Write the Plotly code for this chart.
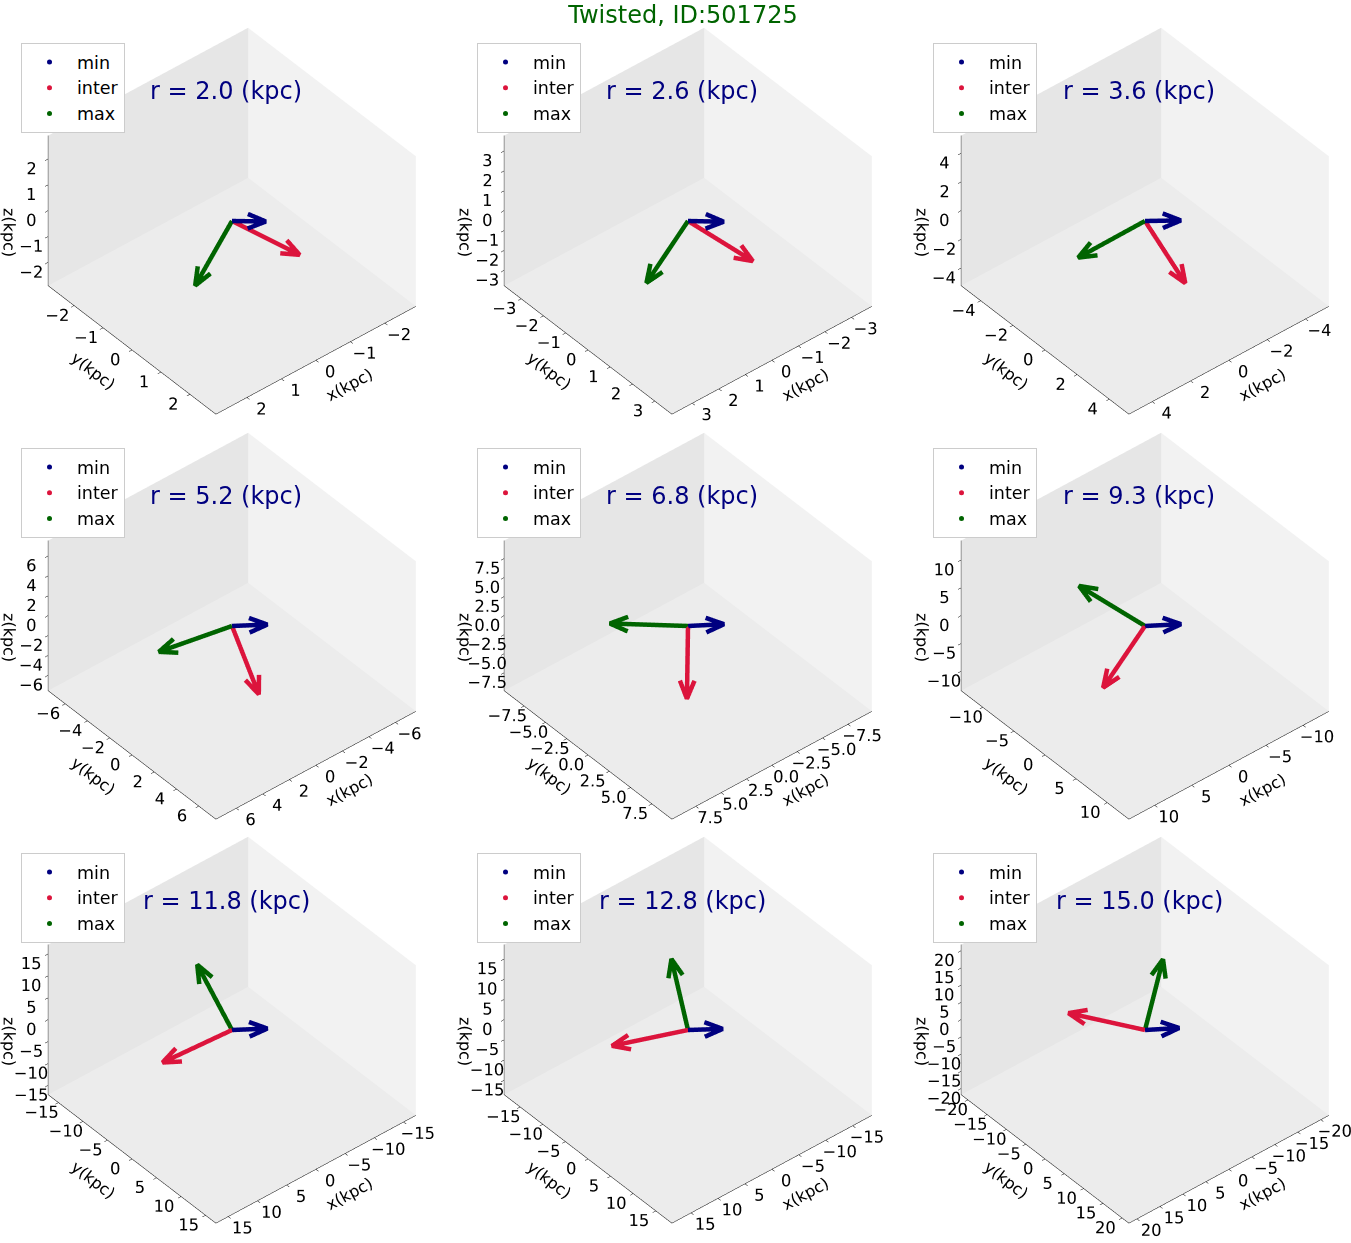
import numpy as np
import plotly.graph_objects as go

# Shape-tensor principal axes (unit vectors) at each radius
RADII = [2.0, 2.6, 3.6, 5.2, 6.8, 9.3, 11.8, 12.8, 15.0]

MIN_AXES = [
    (0.09, 0.73, 0.68),
    (0.07, 0.74, 0.67),
    (0.06, 0.73, 0.68),
    (0.06, 0.72, 0.69),
    (0.05, 0.72, 0.69),
    (0.05, 0.72, 0.69),
    (0.06, 0.72, 0.69),
    (0.07, 0.72, 0.69),
    (0.07, 0.71, 0.70),
]
INTER_AXES = [
    (-0.55, 0.58, -0.59),
    (-0.47, 0.64, -0.62),
    (-0.05, 0.68, -0.73),
    (0.14, 0.66, -0.74),
    (0.52, 0.60, -0.60),
    (0.88, 0.27, -0.42),
    (0.99, -0.09, -0.03),
    (0.96, -0.26, 0.14),
    (0.75, -0.54, 0.43),
]
MAX_AXES = [
    (0.83, 0.31, -0.47),
    (0.87, 0.27, -0.42),
    (0.99, -0.04, -0.07),
    (0.98, -0.17, 0.03),
    (0.86, -0.42, 0.31),
    (0.47, -0.67, 0.60),
    (-0.04, -0.69, 0.73),
    (-0.26, -0.61, 0.73),
    (-0.68, -0.48, 0.55),
]

AXIS_NAMES = ["min", "inter", "max"]
AXIS_COLORS = ["navy", "crimson", "darkgreen"]

# Tick layout per panel
TICK_STEP = [1, 1, 2, 2, 2.5, 5, 5, 5, 5]
TICK_MAX = [2, 3, 4, 6, 7.5, 10, 15, 15, 20]
TICK_DECIMALS = [0, 0, 0, 0, 1, 0, 0, 0, 0]

TITLE = "Twisted, ID:501725"

# ---- drawing parameters ----
W, H = 1351, 1243
FONT = "DejaVu Sans"
LIMIT_FACTOR = 1.45      # axis half-range relative to r
ARROW_FACTOR = 0.94      # arrow length relative to r
HEAD_FRAC = 0.23         # arrowhead arm length relative to arrow length
HEAD_ANGLE = np.radians(22)
BOX_SIZE = 1.206         # on-screen size of the axes box
Z_ASPECT = 0.75
AZIM, ELEV = np.radians(50), np.radians(40)
EYE_DIST = 2.5

# scene domains in pixels (rows overlap so tick labels are not cut off)
COL_SPANS = [(0, 450), (450, 901), (901, 1351)]
ROW_SPANS = [(0, 433), (405, 838), (810, 1243)]
# where the centre of each axes box should land
COL_CX = [232, 688, 1145]
ROW_CY = [221, 626, 1030]

view = np.array([np.cos(ELEV) * np.cos(AZIM), np.cos(ELEV) * np.sin(AZIM), np.sin(ELEV)])
right = np.array([-np.sin(AZIM), np.cos(AZIM), 0.0])
up = np.cross(view, right)
scene_scale = np.array([1.0, 1.0, Z_ASPECT])


def arrow_path(vec, length):
    """Shaft plus a two-armed head, with the head spread in the screen plane."""
    v = np.asarray(vec, float)
    v = v / np.linalg.norm(v)
    tip = v * length
    vs = v * scene_scale
    s = vs - vs.dot(view) * view
    s = s / np.linalg.norm(s)
    p = np.cross(view, s)
    hl = HEAD_FRAC * length
    tip_s = tip * scene_scale
    arms = []
    for sign in (1, -1):
        arm_s = tip_s + hl * (-np.cos(HEAD_ANGLE) * s + sign * np.sin(HEAD_ANGLE) * p)
        arms.append(arm_s / scene_scale)
    pts = [np.zeros(3), tip, None, arms[0], tip, arms[1]]
    xs = [None if q is None else q[0] for q in pts]
    ys = [None if q is None else q[1] for q in pts]
    zs = [None if q is None else q[2] for q in pts]
    return xs, ys, zs


def fmt(v, dec):
    txt = f"{abs(v):.{dec}f}"
    return ("\u2212" + txt) if v < 0 else txt


fig = go.Figure()
layout = dict(
    width=W, height=H,
    margin=dict(l=0, r=0, t=0, b=0),
    paper_bgcolor="white",
    font=dict(family=FONT, color="black"),
    title=dict(text=TITLE, x=683 / W, xanchor="center", xref="paper",
               y=1 - 15 / H, yanchor="middle", yref="container",
               font=dict(size=24, color="#006400", family=FONT)),
    annotations=[],
)

for i, r in enumerate(RADII):
    row, col = divmod(i, 3)
    sid = "scene" if i == 0 else f"scene{i + 1}"
    lid = "legend" if i == 0 else f"legend{i + 1}"
    lim = LIMIT_FACTOR * r
    L = ARROW_FACTOR * r

    # legend entries (dot markers)
    for name, color in zip(AXIS_NAMES, AXIS_COLORS):
        fig.add_trace(go.Scatter3d(
            x=[None], y=[None], z=[None], mode="markers", name=name,
            marker=dict(size=5, color=color), scene=sid, legend=lid,
            hoverinfo="skip"))

    for vec, color in zip((MIN_AXES[i], INTER_AXES[i], MAX_AXES[i]), AXIS_COLORS):
        xs, ys, zs = arrow_path(vec, L)
        fig.add_trace(go.Scatter3d(
            x=xs, y=ys, z=zs, mode="lines", line=dict(color=color, width=9),
            showlegend=False, scene=sid, hoverinfo="skip", connectgaps=False))

    step, tmax, dec = TICK_STEP[i], TICK_MAX[i], TICK_DECIMALS[i]
    tv = np.arange(-tmax, tmax + step / 2, step)
    tt = [fmt(v, dec) for v in tv]

    def ax(title, bg):
        return dict(range=[-lim, lim], tickvals=tv, ticktext=tt, tickangle=0,
                    showgrid=False, zeroline=False, showline=True,
                    linecolor="black", linewidth=1, ticks="outside",
                    ticklen=4, tickcolor="black",
                    showbackground=True, backgroundcolor=bg,
                    showspikes=False,
                    tickfont=dict(size=14, family=FONT, color="black"),
                    title=dict(text=title, font=dict(size=16, family=FONT, color="black")))

    x0, x1 = COL_SPANS[col]
    y0, y1 = ROW_SPANS[row]
    px_per_unit = (y1 - y0) / 2.0
    dx = COL_CX[col] - (x0 + x1) / 2.0
    dy_up = (y0 + y1) / 2.0 - ROW_CY[row]
    c = -(dx * right + dy_up * up) / px_per_unit
    eye = c + view * EYE_DIST

    layout[sid] = dict(
        domain=dict(x=[x0 / W, x1 / W], y=[1 - y1 / H, 1 - y0 / H]),
        xaxis=ax("x(kpc)", "rgb(242,242,242)"),
        yaxis=ax("y(kpc)", "rgb(230,230,230)"),
        zaxis=ax("z(kpc)", "rgb(236,236,236)"),
        aspectmode="manual",
        aspectratio=dict(x=BOX_SIZE, y=BOX_SIZE, z=BOX_SIZE * Z_ASPECT),
        camera=dict(eye=dict(x=eye[0], y=eye[1], z=eye[2]),
                    up=dict(x=0, y=0, z=1), center=dict(x=c[0], y=c[1], z=c[2]),
                    projection=dict(type="orthographic")),
        bgcolor="rgba(0,0,0,0)",
    )

    lx = (21 + 456 * col) / W
    ly = 1 - (43 + 405 * row) / H
    layout[lid] = dict(x=lx, y=ly, xanchor="left", yanchor="top",
                       bgcolor="white", bordercolor="#cccccc", borderwidth=1,
                       itemwidth=45,
                       font=dict(size=17.5, family=FONT, color="black"))

    layout["annotations"].append(dict(
        text=f"r = {r:.1f} (kpc)", x=(COL_CX[col] - 6) / W, y=1 - (91 + 405 * row) / H,
        xref="paper", yref="paper", xanchor="center", yanchor="middle",
        showarrow=False, font=dict(size=24, color="navy", family=FONT)))

fig.update_layout(**layout)
fig.write_html("out.html")
